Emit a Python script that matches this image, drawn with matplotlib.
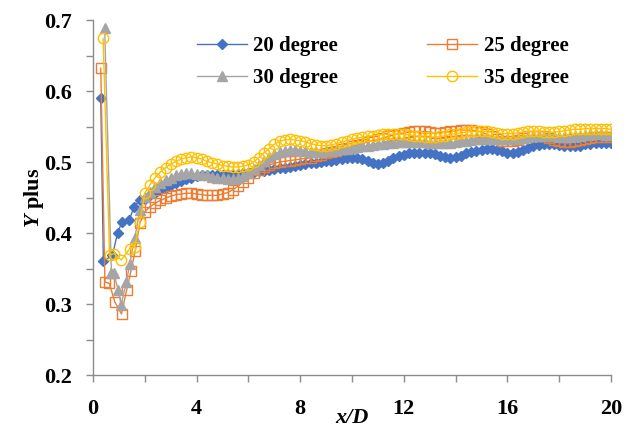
import numpy as np
import matplotlib
matplotlib.use("Agg")
import matplotlib.pyplot as plt
from matplotlib.ticker import MultipleLocator

plt.rcParams["font.family"] = "Liberation Serif"
plt.rcParams["font.weight"] = "bold"
plt.rcParams["mathtext.fontset"] = "custom"
plt.rcParams["mathtext.it"] = "Liberation Serif:italic:bold"
plt.rcParams["mathtext.rm"] = "Liberation Serif:bold"

# near-inlet points (irregular spacing)
x20_head = [0.30, 0.40, 0.75, 0.95, 1.11, 1.40, 1.58, 1.81]
y20_head = [0.590, 0.360, 0.369, 0.400, 0.415, 0.418, 0.437, 0.446]
x25_head = [0.30, 0.46, 0.63, 0.84, 1.10, 1.30, 1.46, 1.63, 1.81]
y25_head = [0.632, 0.331, 0.329, 0.303, 0.286, 0.320, 0.346, 0.375, 0.414]
x30_head = [0.45, 0.71, 0.80, 0.97, 1.09, 1.29, 1.42, 1.61, 1.81]
y30_head = [0.689, 0.344, 0.344, 0.320, 0.299, 0.331, 0.357, 0.393, 0.432]
x35_head = [0.39, 0.64, 0.81, 1.09, 1.42, 1.61, 1.81]
y35_head = [0.674, 0.369, 0.371, 0.362, 0.378, 0.381, 0.416]

# downstream sampling grid, x/D = 2.0 ... 20.0
x_grid = np.round(np.arange(2.0, 20.01, 0.2), 2)

y20_grid = [
    0.448, 0.453, 0.457, 0.460, 0.463, 0.467, 0.470, 0.473, 0.476, 0.478,
    0.480, 0.481, 0.481, 0.481, 0.481, 0.481, 0.481, 0.482, 0.483, 0.484,
    0.485, 0.486, 0.487, 0.488, 0.489, 0.490, 0.491, 0.492, 0.493, 0.495,
    0.496, 0.497, 0.498, 0.499, 0.500, 0.501, 0.502, 0.503, 0.504, 0.505,
    0.505, 0.505, 0.504, 0.502, 0.499, 0.497, 0.499, 0.502, 0.505, 0.508,
    0.510, 0.512, 0.513, 0.513, 0.513, 0.512, 0.511, 0.509, 0.507, 0.505,
    0.507, 0.509, 0.512, 0.514, 0.516, 0.517, 0.518, 0.518, 0.517, 0.515,
    0.513, 0.512, 0.514, 0.517, 0.520, 0.522, 0.524, 0.525, 0.525, 0.525,
    0.524, 0.523, 0.522, 0.522, 0.523, 0.525, 0.526, 0.527, 0.527, 0.527,
    0.527,
]
y25_grid = [
    0.430, 0.437, 0.442, 0.446, 0.449, 0.452, 0.454, 0.455, 0.456, 0.456,
    0.455, 0.454, 0.453, 0.453, 0.453, 0.455, 0.457, 0.461, 0.466, 0.472,
    0.478, 0.484, 0.489, 0.493, 0.496, 0.498, 0.500, 0.501, 0.502, 0.503,
    0.504, 0.505, 0.506, 0.508, 0.510, 0.512, 0.514, 0.516, 0.518, 0.520,
    0.522, 0.524, 0.526, 0.528, 0.530, 0.532, 0.534, 0.536, 0.538, 0.540,
    0.541, 0.542, 0.543, 0.543, 0.543, 0.542, 0.541, 0.541, 0.542, 0.543,
    0.544, 0.545, 0.545, 0.545, 0.544, 0.542, 0.539, 0.536, 0.532, 0.530,
    0.529, 0.529, 0.531, 0.534, 0.536, 0.537, 0.537, 0.536, 0.534, 0.531,
    0.529, 0.528, 0.528, 0.529, 0.531, 0.533, 0.534, 0.535, 0.535, 0.535,
    0.535,
]
y30_grid = [
    0.451, 0.458, 0.465, 0.470, 0.475, 0.478, 0.481, 0.483, 0.484, 0.484,
    0.483, 0.482, 0.481, 0.479, 0.478, 0.477, 0.476, 0.476, 0.477, 0.480,
    0.484, 0.490, 0.496, 0.502, 0.507, 0.511, 0.514, 0.516, 0.517, 0.517,
    0.516, 0.515, 0.514, 0.514, 0.514, 0.515, 0.516, 0.517, 0.518, 0.519,
    0.520, 0.521, 0.522, 0.523, 0.524, 0.525, 0.526, 0.527, 0.527, 0.528,
    0.528, 0.528, 0.528, 0.528, 0.528, 0.527, 0.527, 0.527, 0.527, 0.527,
    0.528, 0.529, 0.530, 0.531, 0.532, 0.533, 0.533, 0.533, 0.533, 0.532,
    0.532, 0.532, 0.533, 0.534, 0.535, 0.536, 0.537, 0.537, 0.537, 0.536,
    0.535, 0.535, 0.535, 0.536, 0.537, 0.538, 0.539, 0.539, 0.539, 0.538,
    0.538,
]
y35_grid = [
    0.456, 0.468, 0.478, 0.486, 0.492, 0.497, 0.501, 0.504, 0.506, 0.507,
    0.506, 0.504, 0.501, 0.499, 0.497, 0.495, 0.494, 0.493, 0.493, 0.494,
    0.496, 0.500, 0.506, 0.513, 0.519, 0.525, 0.529, 0.531, 0.532, 0.531,
    0.530, 0.528, 0.526, 0.524, 0.523, 0.523, 0.524, 0.526, 0.528, 0.530,
    0.532, 0.534, 0.535, 0.536, 0.537, 0.538, 0.539, 0.539, 0.539, 0.539,
    0.539, 0.538, 0.537, 0.536, 0.535, 0.535, 0.535, 0.536, 0.537, 0.539,
    0.540, 0.541, 0.542, 0.543, 0.543, 0.543, 0.543, 0.542, 0.541, 0.540,
    0.540, 0.540, 0.541, 0.542, 0.543, 0.543, 0.543, 0.542, 0.542, 0.542,
    0.543, 0.544, 0.545, 0.546, 0.546, 0.547, 0.547, 0.547, 0.547, 0.547,
    0.546,
]

labels = ["20 degree", "25 degree", "30 degree", "35 degree"]

fig = plt.figure(figsize=(6.31, 4.32), dpi=100)
ax = fig.add_axes([0.1474, 0.1319, 0.821, 0.8218])

series = [
    (x20_head, y20_head, y20_grid, dict(color="#4472C4", marker="D", ms=5.5,
                                        mfc="#4472C4", mec="#4472C4")),
    (x25_head, y25_head, y25_grid, dict(color="#ED7D31", marker="s", ms=7,
                                        mfc="none", mec="#ED7D31", mew=1.0)),
    (x30_head, y30_head, y30_grid, dict(color="#A5A5A5", marker="^", ms=7,
                                        mfc="#A5A5A5", mec="#A5A5A5")),
    (x35_head, y35_head, y35_grid, dict(color="#FFC000", marker="o", ms=7.5,
                                        mfc="none", mec="#FFC000", mew=1.0)),
]
handles = []
for (xh, yh, yg, style), lab in zip(series, labels):
    xs = np.concatenate([xh, x_grid])
    ys = np.concatenate([yh, yg])
    line, = ax.plot(xs, ys, lw=1.0, label=lab, **style)
    handles.append(line)

ax.set_xlim(0, 20)
ax.set_ylim(0.2, 0.7)
ax.xaxis.set_major_locator(MultipleLocator(4))
ax.xaxis.set_minor_locator(MultipleLocator(2))
ax.yaxis.set_major_locator(MultipleLocator(0.1))
ax.yaxis.set_minor_locator(MultipleLocator(0.05))
ax.yaxis.set_major_formatter(plt.FuncFormatter(lambda v, p: f"{v:.1f}"))

for side in ("top", "right"):
    ax.spines[side].set_visible(False)
for side in ("left", "bottom"):
    ax.spines[side].set_color("#8C8C8C")
    ax.spines[side].set_linewidth(1.0)

ax.tick_params(which="both", direction="out", length=5, width=1.0,
               color="#8C8C8C", labelsize=16)
ax.tick_params(axis="x", which="major", pad=12)
ax.tick_params(axis="y", which="major", pad=10)

ax.set_xlabel("x/D", fontsize=16, fontstyle="italic", fontweight="bold",
              labelpad=-8)
ax.set_ylabel(r"$\mathit{Y}$ plus", fontsize=16, fontweight="bold",
              labelpad=-1)

# row-wise legend: 20 | 25 on top, 30 | 35 below
order = [0, 2, 1, 3]
ax.legend([handles[i] for i in order], [labels[i] for i in order],
          ncol=2, frameon=False, fontsize=15, handlelength=2.4,
          columnspacing=4.3, labelspacing=0.55, handletextpad=0.3,
          borderpad=0, loc="upper left", bbox_to_anchor=(0.295, 0.94),
          bbox_transform=fig.transFigure)

fig.savefig("out.png", dpi=100)
